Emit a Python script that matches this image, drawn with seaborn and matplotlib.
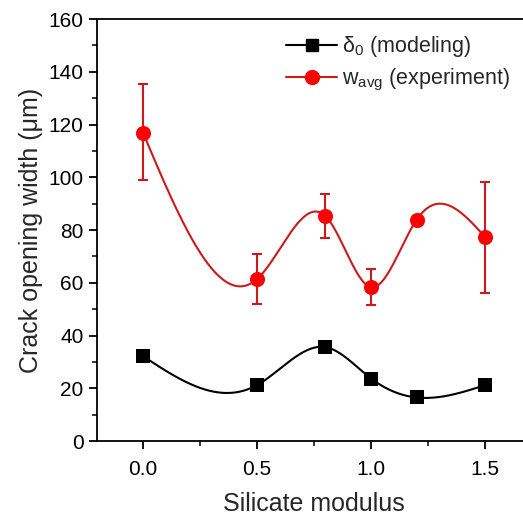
import numpy as np
import pandas as pd
import matplotlib
matplotlib.use("Agg")
import matplotlib.pyplot as plt
import seaborn as sns
from matplotlib.lines import Line2D

# Data
modulus = [0.0, 0.5, 0.8, 1.0, 1.2, 1.5]
delta0_model = [32.2, 21.2, 35.6, 23.7, 16.5, 21.2]
wavg_exp = [117.0, 61.4, 85.3, 58.3, 84.0, 77.3]
wavg_err_up = [18.4, 9.5, 8.5, 7.0, 1.0, 21.1]
wavg_err_low = [18.0, 9.5, 8.2, 6.7, 1.0, 21.1]
xticks = [0.0, 0.5, 1.0, 1.5]
yticks = [0, 20, 40, 60, 80, 100, 120, 140, 160]


def natural_spline(x, y, n=400):
    x = np.asarray(x, float); y = np.asarray(y, float)
    k = len(x); h = np.diff(x)
    A = np.zeros((k, k)); b = np.zeros(k)
    A[0, 0] = A[-1, -1] = 1
    for i in range(1, k - 1):
        A[i, i - 1] = h[i - 1]; A[i, i] = 2 * (h[i - 1] + h[i]); A[i, i + 1] = h[i]
        b[i] = 6 * ((y[i + 1] - y[i]) / h[i] - (y[i] - y[i - 1]) / h[i - 1])
    M = np.linalg.solve(A, b)
    xs = np.linspace(x[0], x[-1], n); ys = np.empty_like(xs)
    for j, t in enumerate(xs):
        i = min(np.searchsorted(x, t, side="right") - 1, k - 2)
        a = x[i + 1] - t; c = t - x[i]
        ys[j] = (M[i] * a**3 + M[i + 1] * c**3) / (6 * h[i]) \
            + (y[i] / h[i] - M[i] * h[i] / 6) * a + (y[i + 1] / h[i] - M[i + 1] * h[i] / 6) * c
    return xs, ys


sns.set_style("ticks")
plt.rcParams['font.family'] = ['Liberation Sans', 'DejaVu Sans']

fig = plt.figure(figsize=(5.23, 5.17), dpi=100)
ax = fig.add_axes([0.186, 0.147, 0.829, 0.816])

red = "#ff0000"
dred = "#cc1a1a"

xs, ys = natural_spline(modulus, delta0_model)
sns.lineplot(x=xs, y=ys, ax=ax, color="black", lw=1.5, sort=False)
xs, ys = natural_spline(modulus, wavg_exp)
sns.lineplot(x=xs, y=ys, ax=ax, color=dred, lw=1.5, sort=False)

ax.errorbar(modulus, wavg_exp, yerr=[wavg_err_low, wavg_err_up], fmt="none",
            ecolor=dred, elinewidth=1.5, capsize=3.5, capthick=1.5, zorder=3)

df = pd.DataFrame({"x": modulus, "d": delta0_model, "w": wavg_exp})
sns.scatterplot(data=df, x="x", y="d", ax=ax, marker="s", s=88, color="black",
                edgecolor="black", linewidth=0, zorder=4)
sns.scatterplot(data=df, x="x", y="w", ax=ax, marker="o", s=118, color=red,
                edgecolor=red, linewidth=0, zorder=4)

ax.set_xlim(-0.2, 1.7)
ax.set_ylim(0, 160)
ax.set_xticks(xticks)
ax.set_xticklabels([f"{t:.1f}" for t in xticks])
ax.set_xticks([0.25, 0.75, 1.25], minor=True)
ax.set_yticks(yticks)
ax.set_yticks(list(range(10, 160, 20)), minor=True)
ax.tick_params(axis="both", which="major", direction="out", length=6, width=1.3,
               labelsize=15, colors="black")
ax.tick_params(axis="x", which="major", pad=8)
ax.tick_params(axis="y", which="major", pad=4)
ax.tick_params(axis="both", which="minor", direction="out", length=3.5, width=1.3)
for s in ax.spines.values():
    s.set_linewidth(1.3); s.set_color("black")

ax.set_xlabel("Silicate modulus", fontsize=18, labelpad=9)
ax.set_ylabel("Crack opening width (μm)", fontsize=18, labelpad=4)

handles = [
    Line2D([], [], color="black", lw=1.5, marker="s", markersize=8),
    Line2D([], [], color=dred, lw=1.5, marker="o", markersize=10,
           markerfacecolor=red, markeredgecolor=red),
]
ax.legend(handles, [r"$\mathregular{\delta_0}$ (modeling)", r"$\mathregular{w_{avg}}$ (experiment)"],
          loc="upper left", bbox_to_anchor=(0.415, 0.985), frameon=False, fontsize=15.5,
          handlelength=2.4, handletextpad=0.2, labelspacing=0.35, borderaxespad=0.0)

fig.savefig("out.png", dpi=100)
